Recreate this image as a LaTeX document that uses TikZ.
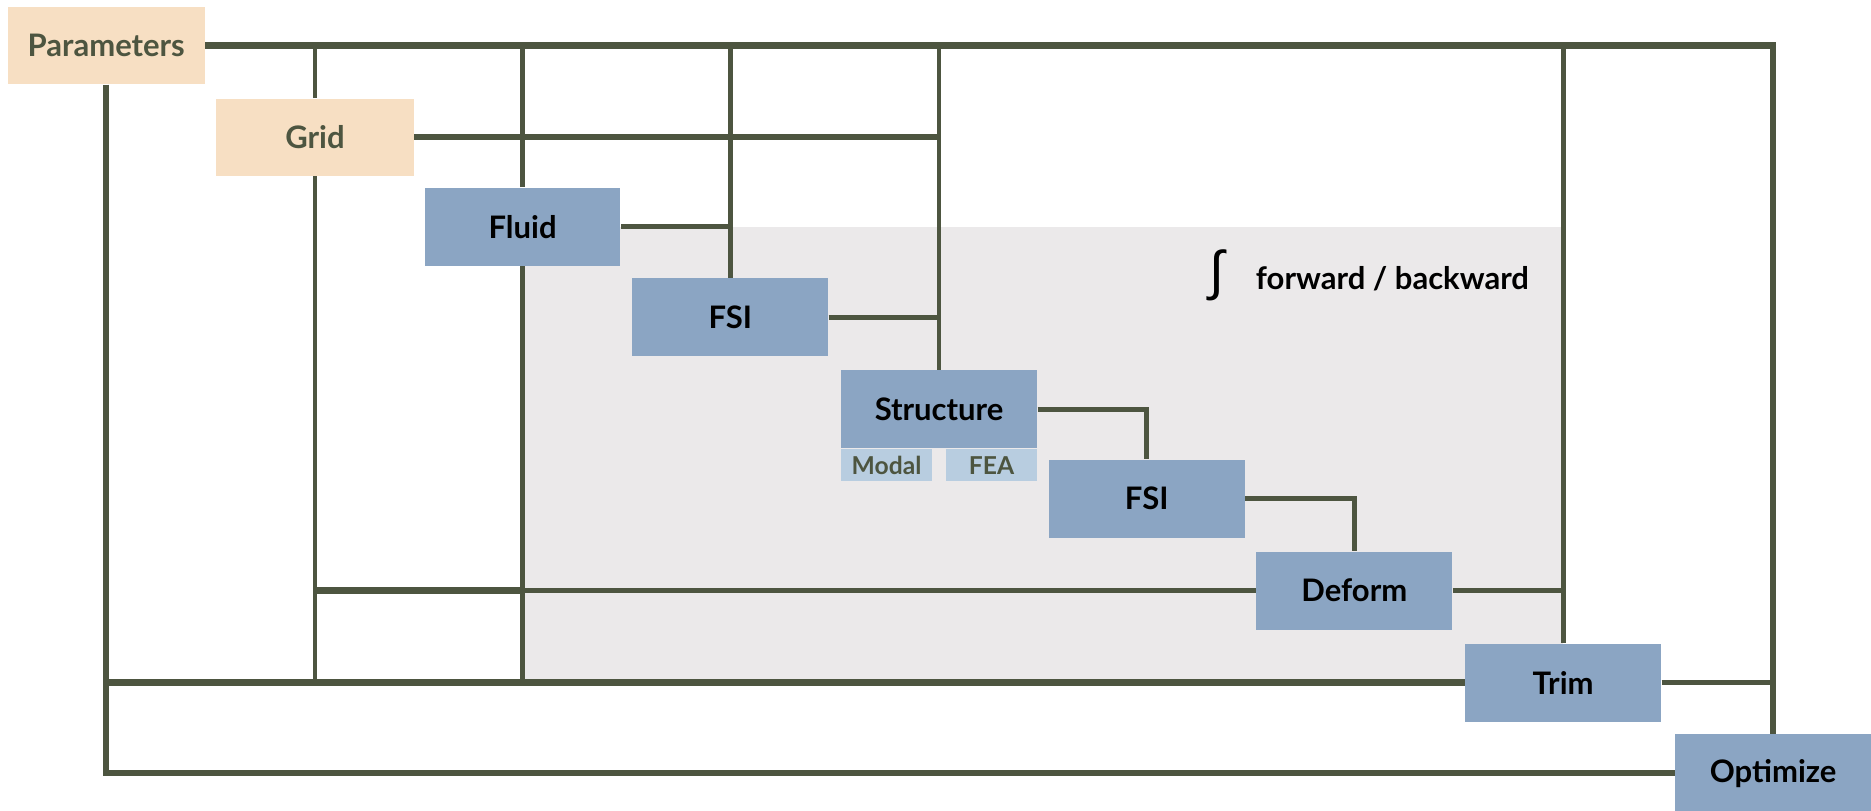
\documentclass[tikz,border=0pt]{standalone}
\usepackage{fontspec}
\setmainfont{Lato}
\newfontfamily\symfont{Liberation Sans}
\usetikzlibrary{backgrounds}

\definecolor{peach}{RGB}{247,223,195}
\definecolor{steel}{RGB}{139,165,195}
\definecolor{pale}{RGB}{184,205,224}
\definecolor{olive}{RGB}{77,85,64}
\definecolor{bggray}{RGB}{235,233,234}

\tikzset{every picture/.style={line width=0.75pt}}

\begin{document}
\begin{tikzpicture}[x=0.75pt,y=0.75pt,yscale=-1,xscale=1,
	inbox/.style={fill=peach, minimum width=124pt, minimum height=48.5pt, inner sep=0pt, font=\fontsize{19.5}{22}\selectfont\bfseries, text=olive},
	solver/.style={fill=steel, minimum width=123pt, minimum height=49pt, inner sep=0pt, font=\fontsize{19.5}{22}\selectfont\bfseries, text=black},
	sub/.style={fill=pale, minimum width=57pt, minimum height=20pt, inner sep=0pt, font=\fontsize{15.5}{17}\selectfont\bfseries, text=olive},
	link/.style={draw=olive, line width=3pt},
	mainlink/.style={draw=olive, line width=4pt}]
	\useasboundingbox (0,0) rectangle (1568,679);

	%Shape: Rectangle [id:par] 
	\node[inbox] (par) at (89,38) {Parameters};
	%Shape: Rectangle [id:grid] 
	\node[inbox] (grid) at (264,115) {Grid};
	%Shape: Rectangle [id:fluid] 
	\node[solver] (fluid) at (438,190) {Fluid};
	%Shape: Rectangle [id:fsia] 
	\node[solver] (fsia) at (612,266) {FSI};
	%Shape: Rectangle [id:struct] 
	\node[solver] (struct) at (787,343) {Structure};
	\node[sub, anchor=north west] (modal) at (struct.south west) {Modal};
	\node[sub, anchor=north east] (fea) at (struct.south east) {FEA};
	%Shape: Rectangle [id:fsib] 
	\node[solver] (fsib) at (961,418) {FSI};
	%Shape: Rectangle [id:deform] 
	\node[solver] (deform) at (1135,495) {Deform};
	%Shape: Rectangle [id:trim] 
	\node[solver] (trim) at (1310,572) {Trim};
	%Shape: Rectangle [id:opt] 
	\node[solver] (opt) at (1486,648) {Optimize};

	%Text Node
	\node[anchor=west, inner sep=0pt, font=\fontsize{19.5}{22}\selectfont\bfseries] (integ) at (1013,231) {{\symfont\mdseries\fontsize{34}{34}\selectfont ∫}\hspace{20pt}forward / backward};

	%Shape: Rectangle [id:loop] 
	\begin{pgfonlayer}{background}
	\fill[bggray] (fluid.south |- fluid.east) rectangle (trim.north |- trim.west);
	\end{pgfonlayer}

	%Straight Lines [id:top] 
	\draw[mainlink] (par.east) -| (opt.north);
	\draw[link] (grid.north) -- (grid.north |- par.east);
	\draw[link] (fluid.north) -- (fluid.north |- par.east);
	\draw[link] (fsia.north) -- (fsia.north |- par.east);
	\draw[link] (struct.north) -- (struct.north |- par.east);
	\draw[link] (trim.north) -- (trim.north |- par.east);
	%Straight Lines [id:outer] 
	\draw[mainlink] (par.south) |- (opt.west);
	\draw[mainlink] (par.south |- trim.west) -- (trim.west);
	\draw[link] (trim.east) -- (trim.east -| opt.north);
	%Straight Lines [id:grid] 
	\draw[mainlink] (grid.east) -- (grid.east -| struct.north);
	\draw[link] (grid.south) -- (grid.south |- trim.west);
	\draw[mainlink] (grid.south |- deform.west) -- (fluid.south |- deform.west);
	%Straight Lines [id:chain] 
	\draw[link] (fluid.south) -- (fluid.south |- trim.west);
	\draw[link] (fluid.east) -- (fluid.east -| fsia.north);
	\draw[link] (fsia.east) -- (fsia.east -| struct.north);
	\draw[link] (struct.east) -| (fsib.north);
	\draw[link] (fsib.east) -| (deform.north);
	\draw[link] (fluid.south |- deform.west) -- (deform.west);
	\draw[link] (deform.east) -- (deform.east -| trim.north);

\end{tikzpicture}
\end{document}
